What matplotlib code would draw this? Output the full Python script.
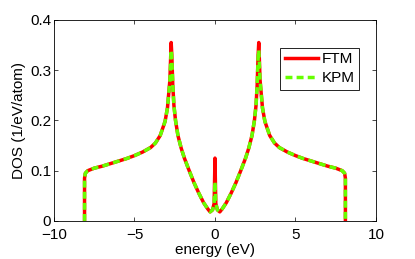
import matplotlib
matplotlib.use('Agg')
import matplotlib.pyplot as plt

plt.rcParams['font.family'] = ['Liberation Sans', 'DejaVu Sans']

# energy grid (eV)
energy = [-8.1, -8.1, -8.05, -7.9, -7.5, -7.0, -6.5, -6.0, -5.5, -5.0, -4.5, -4.0,
          -3.7, -3.4, -3.1, -2.95, -2.8, -2.72, -2.68, -2.62, -2.55, -2.45, -2.3,
          -2.1, -1.9, -1.6, -1.3, -1.0, -0.7, -0.45, -0.3, -0.15, -0.05, 0.0,
          0.05, 0.15, 0.3, 0.45, 0.7, 1.0, 1.3, 1.6, 1.9, 2.1, 2.3, 2.45, 2.55,
          2.62, 2.68, 2.72, 2.8, 2.95, 3.1, 3.4, 3.7, 4.0, 4.5, 5.0, 5.5, 6.0,
          6.5, 7.0, 7.5, 7.9, 8.05, 8.1, 8.1]

dos_ftm = [0.0, 0.085, 0.095, 0.100, 0.105, 0.109, 0.114, 0.119, 0.124, 0.130, 0.137, 0.146,
           0.155, 0.170, 0.198, 0.225, 0.280, 0.355, 0.330, 0.270, 0.230, 0.200, 0.170,
           0.145, 0.125, 0.100, 0.076, 0.055, 0.036, 0.024, 0.018, 0.022, 0.035, 0.125,
           0.035, 0.022, 0.018, 0.024, 0.036, 0.055, 0.076, 0.100, 0.125, 0.145, 0.170,
           0.200, 0.230, 0.270, 0.330, 0.355, 0.280, 0.225, 0.198, 0.170, 0.155, 0.146,
           0.137, 0.130, 0.124, 0.119, 0.114, 0.109, 0.105, 0.100, 0.095, 0.085, 0.0]

dos_kpm = [0.0, 0.085, 0.095, 0.100, 0.105, 0.109, 0.114, 0.119, 0.124, 0.130, 0.137, 0.146,
           0.155, 0.170, 0.198, 0.225, 0.280, 0.340, 0.325, 0.270, 0.230, 0.200, 0.170,
           0.145, 0.125, 0.100, 0.076, 0.055, 0.036, 0.024, 0.018, 0.022, 0.035, 0.078,
           0.035, 0.022, 0.018, 0.024, 0.036, 0.055, 0.076, 0.100, 0.125, 0.145, 0.170,
           0.200, 0.230, 0.270, 0.325, 0.340, 0.280, 0.225, 0.198, 0.170, 0.155, 0.146,
           0.137, 0.130, 0.124, 0.119, 0.114, 0.109, 0.105, 0.100, 0.095, 0.085, 0.0]

fig = plt.figure(figsize=(4.15, 2.59), dpi=100)
ax = fig.add_axes([0.130, 0.147, 0.776, 0.776])

ax.plot(energy, dos_ftm, color='#ff0000', lw=2.5, label='FTM')
ax.plot(energy, dos_kpm, color='#66ff00', lw=2.5, ls=(0, (2, 1.2)), label='KPM')

ax.set_xlim(-10, 10)
ax.set_ylim(0, 0.4)
ax.set_xticks([-10, -5, 0, 5, 10])
ax.set_yticks([0, 0.1, 0.2, 0.3, 0.4])
ax.set_yticklabels(['0', '0.1', '0.2', '0.3', '0.4'])
ax.tick_params(direction='in', top=True, right=True, length=3, width=0.5, labelsize=11)
ax.tick_params(axis='x', pad=5)
ax.tick_params(axis='y', pad=2)
for s in ax.spines.values():
    s.set_linewidth(0.6)
ax.set_xlabel('energy (eV)', fontsize=11, labelpad=1)
ax.set_ylabel('DOS (1/eV/atom)', fontsize=11, labelpad=3)

leg = ax.legend(loc='upper right', bbox_to_anchor=(0.947, 0.861), borderaxespad=0,
                fancybox=False, edgecolor='black', fontsize=11, handlelength=2.2,
                handletextpad=0.2, borderpad=0.3, labelspacing=0.3, framealpha=1)
leg.get_frame().set_linewidth(0.6)

fig.savefig('out.png', dpi=100)
